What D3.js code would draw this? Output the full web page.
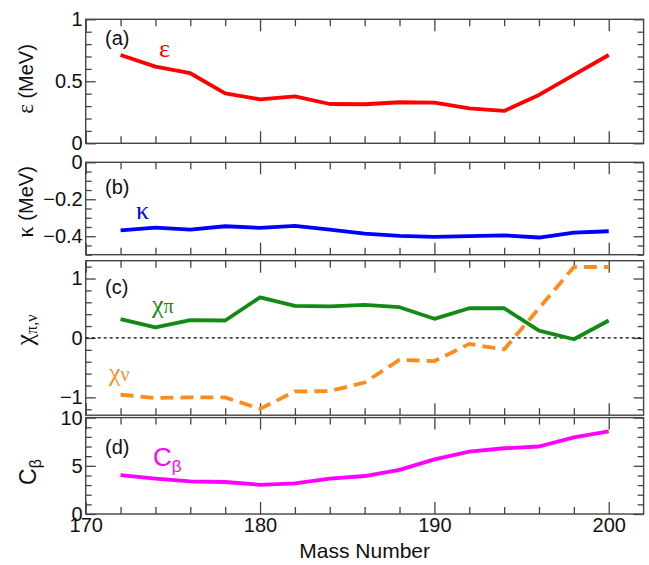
<!DOCTYPE html>
<html><head><meta charset="utf-8">
<script src="https://cdn.jsdelivr.net/npm/d3@7"></script>
<style>
body{margin:0;background:#fff;}
svg text{font-family:"Liberation Sans",Arial,sans-serif;}
</style></head>
<body><svg id="c" width="649" height="565"></svg>
<script>
const mass    = [172,174,176,178,180,182,184,186,188,190,192,194,196,198,200];
const epsilon = [0.712,0.618,0.565,0.403,0.355,0.379,0.317,0.315,0.331,0.328,0.282,0.261,0.390,0.551,0.712];
const kappa   = [-0.368,-0.353,-0.364,-0.346,-0.355,-0.344,-0.364,-0.386,-0.398,-0.404,-0.400,-0.395,-0.407,-0.380,-0.373];
const chiPi   = [0.317,0.178,0.300,0.294,0.683,0.539,0.533,0.556,0.517,0.322,0.500,0.500,0.122,-0.022,0.294];
const chiNu   = [-0.956,-1.011,-1.000,-1.000,-1.194,-0.900,-0.894,-0.750,-0.367,-0.389,-0.100,-0.194,0.500,1.194,1.194];
const cBeta   = [4.04,3.68,3.39,3.32,3.03,3.18,3.68,3.94,4.58,5.67,6.46,6.82,7.00,7.94,8.56];

const xMajorTicks = [170,180,190,200];
const xMinorTicks = [172,174,176,178,182,184,186,188,192,194,196,198];
const aMajor = [0,0.5,1];
const bMajor = [-0.4,-0.2,0];
const cMajor = [-1,0,1];
const dMajor = [0,5,10];

const svg = d3.select("#c");
const L = 85.7, R = 643.6;
const x = d3.scaleLinear().domain([170,202]).range([L,R]);
const fmt = d => (d<0? "\u2212"+String(-d) : String(d));
const frameCol = "#444";

const panels = [
  {top:19.3, bot:143.3, dom:[0,1], major:aMajor, minorStep:0.1},
  {top:162.3, bot:254.7, dom:[-0.5,0], major:bMajor, minorStep:0.05},
  {top:260.7, bot:415.2, dom:[-1.3,1.3], major:cMajor, minorStep:0.2},
  {top:417.6, bot:514, dom:[0,10], major:dMajor, minorStep:1},
];

function minorVals(dom, step){
  const out=[]; const n0=Math.ceil(dom[0]/step-1e-6), n1=Math.floor(dom[1]/step+1e-6);
  for(let i=n0;i<=n1;i++) out.push(+(i*step).toFixed(4));
  return out;
}

panels.forEach((p,i)=>{
  p.y = d3.scaleLinear().domain(p.dom).range([p.bot,p.top]);
  const g = svg.append("g");
  const minors = minorVals(p.dom,p.minorStep).filter(v=>!p.major.some(m=>Math.abs(m-v)<1e-6));
  const yl = g.append("g").attr("transform",`translate(${L},0)`);
  yl.call(d3.axisLeft(p.y).tickValues(p.major).tickSize(-10).tickPadding(3).tickFormat(fmt));
  yl.append("g").call(d3.axisLeft(p.y).tickValues(minors).tickSize(-6).tickFormat(""));
  const yr = g.append("g").attr("transform",`translate(${R},0)`);
  yr.call(d3.axisRight(p.y).tickValues(p.major).tickSize(-10).tickFormat(""));
  yr.append("g").call(d3.axisRight(p.y).tickValues(minors).tickSize(-6).tickFormat(""));
  const xt = g.append("g").attr("transform",`translate(0,${p.top})`);
  xt.call(d3.axisTop(x).tickValues(xMajorTicks).tickSize(-12).tickFormat(""));
  xt.append("g").call(d3.axisTop(x).tickValues(xMinorTicks).tickSize(-7).tickFormat(""));
  const xb = g.append("g").attr("transform",`translate(0,${p.bot})`);
  xb.call(d3.axisBottom(x).tickValues(xMajorTicks).tickSize(-12).tickPadding(4).tickFormat(i===3? d=>String(d) : ""));
  xb.append("g").call(d3.axisBottom(x).tickValues(xMinorTicks).tickSize(-7).tickFormat(""));
  g.selectAll(".domain").remove();
  g.selectAll(".tick line").attr("stroke",frameCol).attr("stroke-width",1.3);
  g.selectAll(".tick text").attr("font-size",20).attr("fill","#111").attr("font-family","Liberation Sans, Arial, sans-serif");
  g.append("rect").attr("x",L).attr("y",p.top).attr("width",R-L).attr("height",p.bot-p.top)
    .attr("fill","none").attr("stroke",frameCol).attr("stroke-width",1.4);
});

svg.append("line").attr("x1",L).attr("x2",R).attr("y1",panels[2].y(0)).attr("y2",panels[2].y(0))
  .attr("stroke","#000").attr("stroke-width",1.2).attr("stroke-dasharray","3,3");

function drawLine(vals, p, color, dash){
  const line = d3.line().x((d,i)=>x(mass[i])).y(d=>p.y(d));
  svg.append("path").datum(vals).attr("d",line).attr("fill","none")
    .attr("stroke",color).attr("stroke-width",3.8).attr("stroke-linejoin","round")
    .attr("stroke-dasharray",dash||null);
}
drawLine(epsilon, panels[0], "#ff0000");
drawLine(kappa, panels[1], "#0000ff");
drawLine(chiPi, panels[2], "#138a13");
drawLine(chiNu, panels[2], "#ff8c1a", "13,7");
drawLine(cBeta, panels[3], "#ff00ff");

[["(a)",45],["(b)",194],["(c)",294],["(d)",454]].forEach(([t,yy])=>{
  svg.append("text").attr("x",105).attr("y",yy).attr("font-size",20).attr("fill","#111").text(t);
});

const serif = "Liberation Serif, Times New Roman, serif";
function lbl(xx,yy,color,parts){
  const t = svg.append("text").attr("x",xx).attr("y",yy).attr("fill",color).attr("font-size",26);
  parts.forEach(pp=>{
    const s = t.append("tspan").text(pp.t);
    if(pp.serif) s.attr("font-family",serif);
    if(pp.sub) s.attr("font-size",pp.fs||20).attr("dy",pp.dy||0);
  });
  return t;
}
lbl(159,57,"#ff0000",[{t:"\u03b5",serif:true}]);
lbl(136,219,"#0000ff",[{t:"\u03ba",serif:true}]);
lbl(152,313,"#138a13",[{t:"\u03c7",serif:true},{t:"\u03c0",serif:true,sub:true,dy:0}]);
lbl(109,381,"#ff8c1a",[{t:"\u03c7",serif:true},{t:"\u03bd",serif:true,sub:true,dy:0}]);
lbl(153,466,"#ff00ff",[{t:"C",serif:false},{t:"\u03b2",sub:true,fs:17,dy:6}]);

function ytitle(cx,cy,build){
  const t = svg.append("text").attr("transform",`translate(${cx},${cy}) rotate(-90)`)
    .attr("text-anchor","middle").attr("font-size",20).attr("fill","#111");
  build(t);
}
ytitle(33,79,t=>{t.append("tspan").attr("font-family",serif).attr("font-size",23).text("\u03b5");t.append("tspan").text(" (MeV)");});
ytitle(33,202,t=>{t.append("tspan").attr("font-family",serif).attr("font-size",23).text("\u03ba");t.append("tspan").text(" (MeV)");});
ytitle(33,330,t=>{t.append("tspan").attr("font-family",serif).attr("font-size",26).text("\u03c7");t.append("tspan").attr("font-family",serif).attr("font-size",16).attr("dy",4).text("\u03c0,\u03bd");});
ytitle(36,472,t=>{t.append("tspan").attr("font-size",23).text("C");t.append("tspan").attr("font-size",16).attr("dy",5).text("\u03b2");});

svg.append("text").attr("x",x(186)).attr("y",558).attr("text-anchor","middle").attr("font-size",21).attr("fill","#111").text("Mass Number");
</script></body></html>
